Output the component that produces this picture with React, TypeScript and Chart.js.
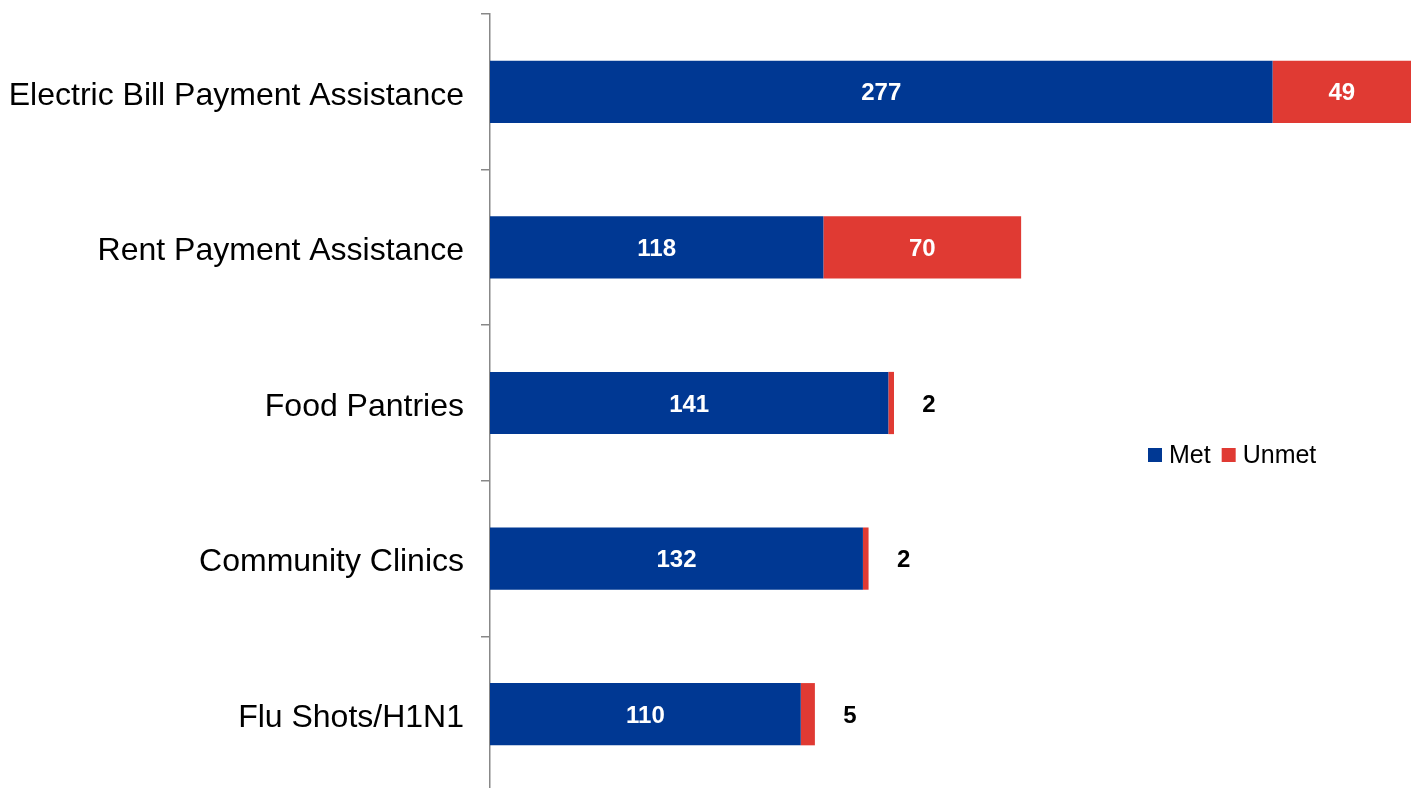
import React, { useEffect, useRef } from "react";
import { Chart, registerables } from "chart.js";

Chart.register(...registerables);

const categories = [
  "Electric Bill Payment Assistance",
  "Rent Payment Assistance",
  "Food Pantries",
  "Community Clinics",
  "Flu Shots/H1N1",
];
const metValues = [277, 118, 141, 132, 110];
const unmetValues = [49, 70, 2, 2, 5];
const seriesNames = ["Met", "Unmet"];
const seriesColors = ["#003893", "#E03A33"];
const xMax = 326;

const FONT = '"Liberation Sans", Arial, Helvetica, sans-serif';

const labelPlugin = {
  id: "segLabels",
  afterDatasetsDraw(chart: any) {
    const ctx = chart.ctx;
    ctx.save();
    ctx.font = `bold 24px ${FONT}`;
    ctx.textBaseline = "middle";
    ctx.textAlign = "center";
    chart.data.datasets.forEach((ds: any, di: number) => {
      const meta = chart.getDatasetMeta(di);
      meta.data.forEach((bar: any, i: number) => {
        const v = ds.data[i];
        const p = bar.getProps(["x", "y", "base"], true);
        const w = Math.abs(p.x - p.base);
        if (w > 40) {
          ctx.fillStyle = "#ffffff";
          ctx.fillText(String(v), (p.x + p.base) / 2, p.y + 2);
        } else {
          ctx.fillStyle = "#000000";
          ctx.fillText(String(v), p.x + 35, p.y + 2);
        }
      });
    });
    ctx.restore();
  },
};

const legendPlugin = {
  id: "customLegend",
  afterDraw(chart: any) {
    const ctx = chart.ctx;
    ctx.save();
    ctx.font = `25px ${FONT}`;
    ctx.textBaseline = "middle";
    ctx.textAlign = "left";
    let x = 1148;
    const yMid = 456;
    const box = 14;
    chart.data.datasets.forEach((ds: any) => {
      ctx.fillStyle = ds.backgroundColor;
      ctx.fillRect(x, yMid - box / 2 - 1, box, box);
      x += box + 7;
      ctx.fillStyle = "#000000";
      ctx.fillText(ds.label, x, yMid);
      x += ctx.measureText(ds.label).width + 11;
    });
    ctx.restore();
  },
};

export default function App() {
  const ref = useRef<HTMLCanvasElement | null>(null);
  useEffect(() => {
    if (!ref.current) return;
    const chart = new Chart(ref.current, {
      type: "bar",
      data: {
        labels: categories,
        datasets: [
          {
            label: seriesNames[0],
            data: metValues,
            backgroundColor: seriesColors[0],
            borderWidth: 0,
            barPercentage: 0.4,
            categoryPercentage: 1,
          },
          {
            label: seriesNames[1],
            data: unmetValues,
            backgroundColor: seriesColors[1],
            borderWidth: 0,
            barPercentage: 0.4,
            categoryPercentage: 1,
          },
        ],
      },
      options: {
        indexAxis: "y",
        animation: false,
        responsive: false,
        maintainAspectRatio: false,
        devicePixelRatio: 1,
        layout: { padding: { top: 14, bottom: 0, left: 0, right: 2 } },
        plugins: {
          legend: { display: false },
          tooltip: { enabled: false },
        },
        scales: {
          x: {
            stacked: true,
            display: false,
            min: 0,
            max: xMax,
          },
          y: {
            stacked: true,
            afterFit(scale: any) {
              scale.width = 490;
              scale.paddingTop = 0;
              scale.paddingBottom = 0;
            },
            grid: {
              offset: true,
              drawOnChartArea: false,
              drawTicks: true,
              tickLength: 9,
              color: "#888888",
              lineWidth: 1.5,
            },
            border: { color: "#888888", width: 1.5 },
            ticks: {
              color: "#000000",
              padding: 17,
              labelOffset: 4,
              font: { family: FONT, size: 32 },
            },
          },
        },
      },
      plugins: [labelPlugin, legendPlugin],
    });
    return () => chart.destroy();
  }, []);
  return (
    <div
      style={{
        position: "fixed",
        left: 0,
        top: 0,
        width: 1413,
        height: 788,
        overflow: "hidden",
        background: "#fff",
      }}
    >
      <canvas ref={ref} width={1413} height={792} style={{ display: "block" }} />
    </div>
  );
}
